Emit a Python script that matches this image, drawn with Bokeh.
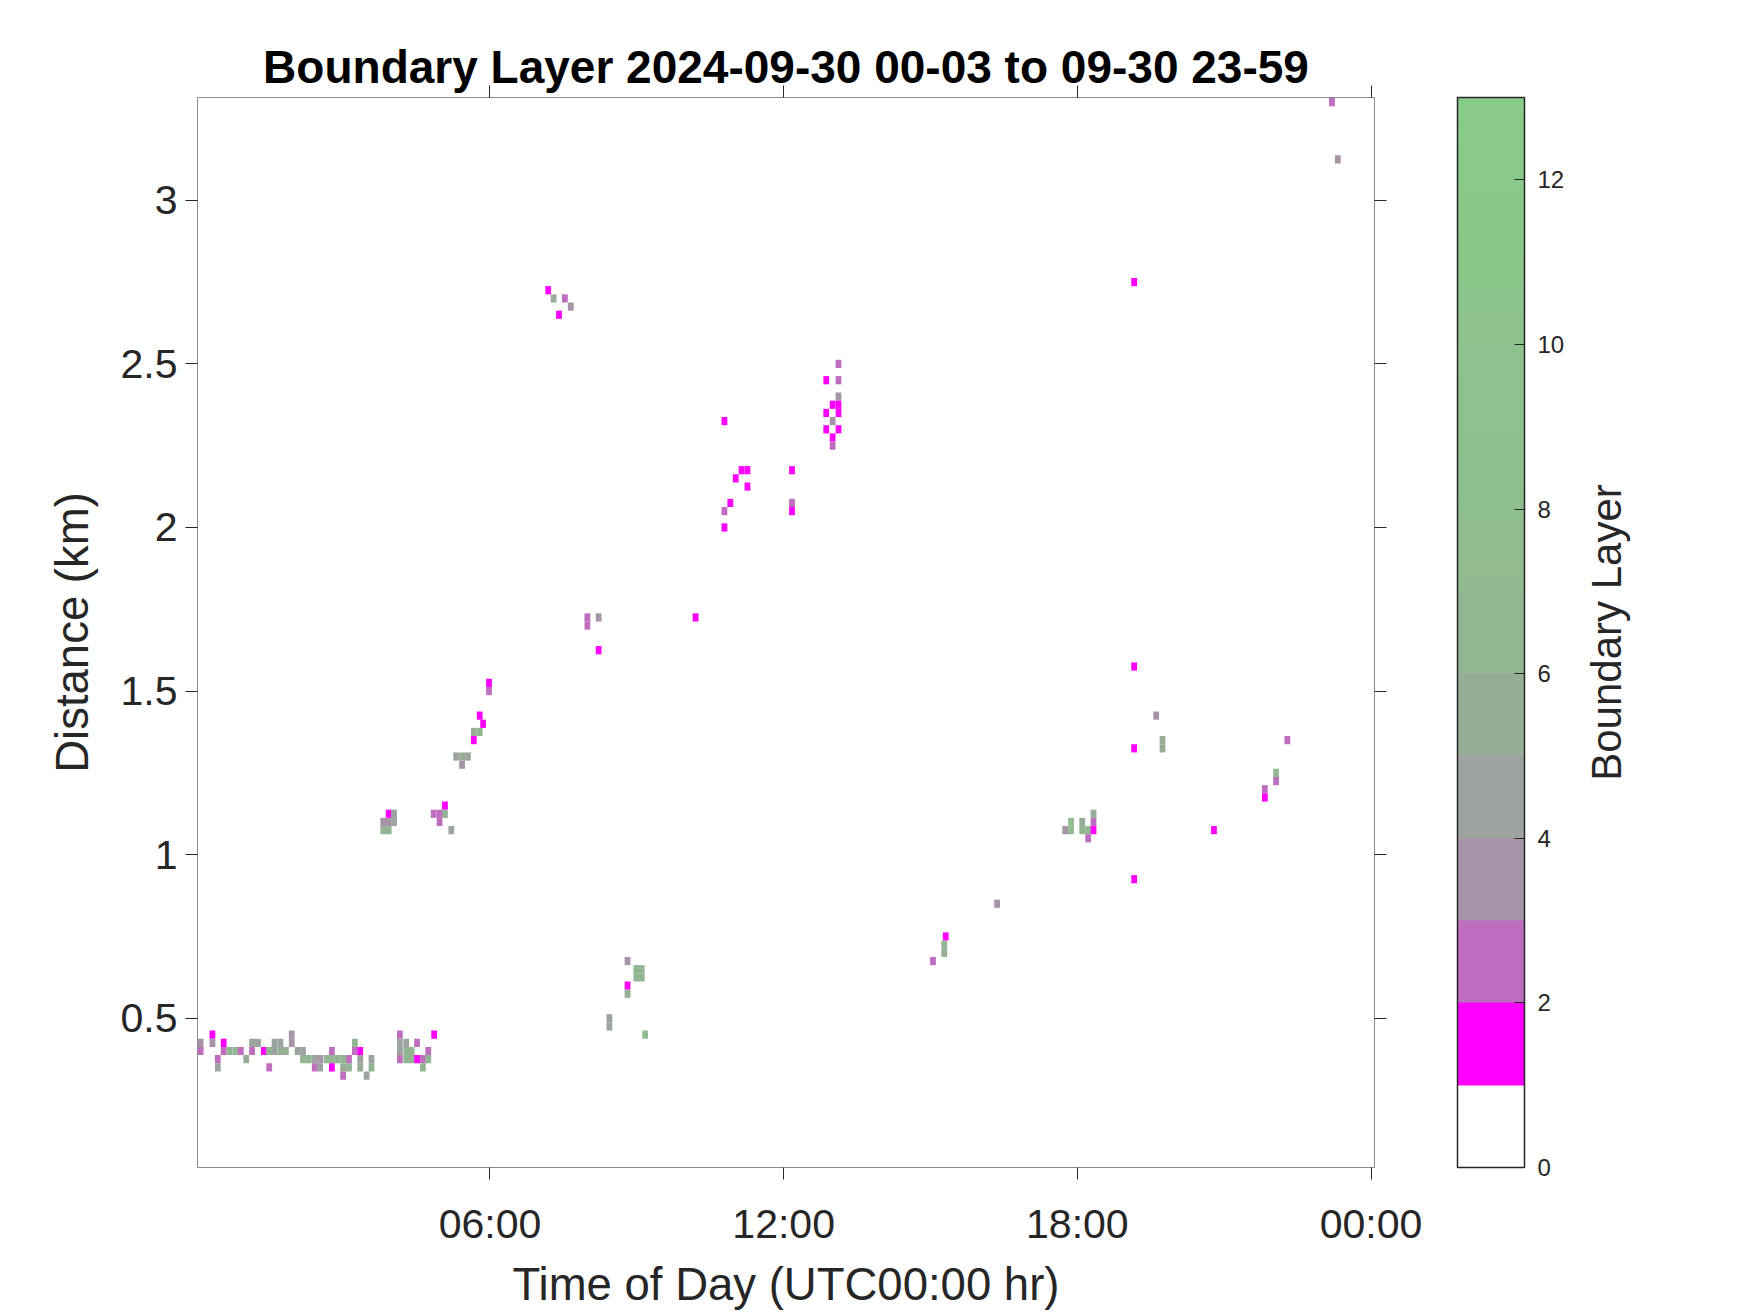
import math
from bokeh.plotting import figure
from bokeh.layouts import row
from bokeh.models import (Range1d, LinearAxis, FixedTicker, NumeralTickFormatter,
                          ColorBar, LinearColorMapper, ColumnDataSource)
from bokeh.embed import file_html
from bokeh.resources import INLINE

# ---------------- data (time of day in hours, range in km, boundary-layer value) -------------
time_h = [
    0.09, 0.09, 0.33, 0.33, 0.44, 0.44, 0.56, 0.56, 0.68, 0.80, 0.91, 1.02, 1.14, 1.14, 1.26,
    1.38, 1.49, 1.49, 1.60, 1.60, 1.72, 1.72, 1.83, 1.95, 1.95, 2.07, 2.18, 2.18, 2.30, 2.42,
    2.42, 2.53, 2.53, 2.66, 2.77, 2.77, 2.77, 2.88, 3.00, 3.00, 3.00, 3.12, 3.12, 3.24, 3.24,
    3.35, 3.35, 3.35, 3.48, 3.58, 3.58,
    4.16, 4.16, 4.16, 4.16, 4.29, 4.29, 4.29, 4.40, 4.40, 4.51, 4.51, 4.63, 4.63, 4.74, 4.74, 4.86,
    3.93, 4.04, 3.82, 3.93, 4.04, 3.82, 3.93,
    5.08, 4.85, 4.97, 5.08, 4.97, 5.21,
    5.43, 5.31, 5.43, 5.55, 5.67, 5.67, 5.79, 5.86, 5.79, 5.98, 5.98,
    7.19, 7.30, 7.53, 7.65, 7.41,
    7.99, 7.99, 8.22, 8.22, 10.20,
    8.44, 8.44, 9.17, 8.81, 8.81, 8.81, 8.99, 9.10, 8.99, 9.10,
    10.79, 11.14, 11.26, 11.02, 11.26, 12.17, 10.91, 10.79, 12.17, 12.17, 10.79,
    13.12, 12.87, 13.12, 13.12, 13.00, 13.12, 12.87, 13.12, 13.00, 12.87, 13.12, 13.00, 13.00,
    15.31, 15.28, 15.28, 15.05, 16.36,
    17.75, 17.87, 17.87, 18.10, 18.10, 18.22, 18.22, 18.33, 18.33, 18.33,
    19.16, 19.16, 19.16, 19.16, 19.61, 19.74, 19.74, 20.79,
    21.83, 21.83, 22.06, 22.06, 22.29, 23.20, 23.32,
]
height_km = [
    0.425, 0.400, 0.450, 0.425, 0.375, 0.350, 0.425, 0.400, 0.400, 0.400, 0.400, 0.375, 0.425, 0.400, 0.425,
    0.400, 0.400, 0.350, 0.425, 0.400, 0.425, 0.400, 0.400, 0.450, 0.425, 0.400, 0.400, 0.375, 0.375, 0.375,
    0.350, 0.375, 0.350, 0.375, 0.400, 0.375, 0.350, 0.375, 0.375, 0.350, 0.325, 0.375, 0.350, 0.425, 0.400,
    0.400, 0.375, 0.350, 0.325, 0.375, 0.350,
    0.450, 0.425, 0.400, 0.375, 0.425, 0.400, 0.375, 0.400, 0.375, 0.425, 0.375, 0.375, 0.350, 0.400, 0.375, 0.450,
    1.125, 1.125, 1.100, 1.100, 1.100, 1.075, 1.075,
    1.150, 1.125, 1.125, 1.125, 1.100, 1.075,
    1.275, 1.300, 1.300, 1.300, 1.350, 1.375, 1.375, 1.400, 1.425, 1.525, 1.500,
    2.725, 2.700, 2.700, 2.675, 2.650,
    1.725, 1.700, 1.725, 1.625, 1.725,
    0.500, 0.475, 0.450, 0.675, 0.600, 0.575, 0.650, 0.650, 0.625, 0.625,
    2.325, 2.175, 2.175, 2.150, 2.125, 2.175, 2.075, 2.050, 2.075, 2.050, 2.000,
    2.500, 2.450, 2.450, 2.400, 2.375, 2.375, 2.350, 2.350, 2.325, 2.300, 2.300, 2.275, 2.250,
    0.750, 0.725, 0.700, 0.675, 0.850,
    1.075, 1.100, 1.075, 1.100, 1.075, 1.075, 1.050, 1.125, 1.100, 1.075,
    2.750, 1.575, 1.325, 0.925, 1.425, 1.350, 1.325, 1.075,
    1.200, 1.175, 1.250, 1.225, 1.350, 3.300, 3.125,
]
layer_value = [
    3.5, 2.5, 1.5, 3.5, 2.5, 4.5, 1.5, 2.5, 6.5, 6.5, 2.5, 5.5, 4.5, 2.5, 4.5,
    1.5, 6.5, 2.5, 4.5, 4.5, 4.5, 5.5, 5.5, 3.5, 3.5, 4.5, 4.5, 6.5, 6.5, 4.5,
    2.5, 3.5, 4.5, 6.5, 2.5, 6.5, 1.5, 6.5, 6.5, 5.5, 2.5, 2.5, 6.5, 6.5, 2.5,
    1.5, 4.5, 5.5, 4.5, 4.5, 6.5,
    2.5, 4.5, 4.5, 2.5, 4.5, 6.5, 6.5, 6.5, 6.5, 2.5, 1.5, 2.5, 6.5, 2.5, 6.5, 1.5,
    1.5, 4.5, 3.5, 3.5, 4.5, 6.5, 6.5,
    1.5, 2.5, 2.5, 5.5, 2.5, 4.5,
    3.5, 4.5, 5.5, 4.5, 1.5, 5.5, 6.5, 1.5, 1.5, 1.5, 2.5,
    1.5, 5.5, 2.5, 3.5, 1.5,
    2.5, 2.5, 3.5, 1.5, 1.5,
    4.5, 4.5, 7.5, 3.5, 1.5, 5.5, 6.5, 6.5, 6.5, 6.5,
    1.5, 1.5, 1.5, 1.5, 1.5, 1.5, 1.5, 2.5, 2.5, 1.5, 1.5,
    2.5, 1.5, 2.5, 3.5, 1.5, 1.5, 1.5, 1.5, 3.5, 1.5, 1.5, 1.5, 2.5,
    1.5, 6.5, 5.5, 2.5, 3.5,
    3.5, 7.5, 7.5, 5.5, 6.5, 6.5, 2.5, 5.5, 2.5, 1.5,
    1.5, 1.5, 1.5, 1.5, 3.5, 5.5, 5.5, 1.5,
    2.5, 1.5, 6.5, 2.5, 2.5, 2.5, 3.5,
]

x_ticks = [6, 12, 18, 24]
x_tick_labels = ["06:00", "12:00", "18:00", "00:00"]
y_ticks = [0.5, 1.0, 1.5, 2.0, 2.5, 3.0]
cbar_ticks = [0, 2, 4, 6, 8, 10, 12]

# colour scale: one colour per unit up to 7, then a smooth ramp to 13
step_colors = ["#ffffff", "#ff00ff", "#bf6ebf", "#a894a8", "#9da39e", "#96ad96", "#92b592"]
ramp_start, ramp_end = (0x90, 0xbb, 0x90), (0x88, 0xcc, 0x88)

palette = []
for i in range(130):
    v = (i + 0.5) / 10.0
    if v < 7:
        palette.append(step_colors[int(v)])
    else:
        f = (v - 7) / 6.0
        c = [round(a + (b - a) * f) for a, b in zip(ramp_start, ramp_end)]
        palette.append("#%02x%02x%02x" % tuple(c))

FONT = "Liberation Sans"
TXT = "#262626"
FW, FH = 1177, 1070
TOP, BOTTOM = 97, 143
P_RIGHT = 195

p = figure(frame_width=FW, frame_height=FH,
           x_range=Range1d(0.025, 24.07), y_range=Range1d(0.044, 3.314),
           output_backend="svg", toolbar_location=None,
           title="Boundary Layer 2024-09-30 00-03 to 09-30 23-59",
           min_border_left=197, min_border_top=TOP, min_border_bottom=BOTTOM,
           min_border_right=P_RIGHT,
           background_fill_color="white", border_fill_color="white")
p.xgrid.visible = False
p.ygrid.visible = False
p.outline_line_color = "#8c8c8c"
p.outline_line_width = 1

p.title.align = "center"
p.title.text_font = FONT
p.title.text_font_size = "46px"
p.title.text_font_style = "bold"
p.title.text_color = "black"
p.title.standoff = -14

src = ColumnDataSource(dict(t=time_h, h=height_km, v=layer_value))
mapper = LinearColorMapper(palette=palette, low=0, high=13)
p.rect(x="t", y="h", width=0.118, height=0.025, source=src,
       fill_color={"field": "v", "transform": mapper}, line_color=None)


def style(ax, label_size="41px"):
    ax.axis_line_color = None
    ax.major_tick_line_color = TXT
    ax.major_tick_out = 12
    ax.major_tick_in = 0
    ax.minor_tick_out = 0
    ax.minor_tick_in = 0
    ax.major_label_text_font = FONT
    ax.major_label_text_color = TXT
    ax.major_label_text_font_size = label_size
    ax.axis_label_text_font = FONT
    ax.axis_label_text_font_style = "normal"
    ax.axis_label_text_color = TXT
    ax.axis_label_text_font_size = "45.5px"


xax = p.xaxis[0]
style(xax)
xax.ticker = FixedTicker(ticks=x_ticks)
xax.major_label_overrides = {t: s for t, s in zip(x_ticks, x_tick_labels)}
xax.major_label_standoff = 21
xax.axis_label = "Time of Day (UTC00:00 hr)"
xax.axis_label_standoff = 9

yax = p.yaxis[0]
style(yax)
yax.ticker = FixedTicker(ticks=y_ticks)
yax.formatter = NumeralTickFormatter(format="0.[0]")
yax.major_label_standoff = 8
yax.axis_label = "Distance (km)"
yax.axis_label_standoff = 20

top_ax = LinearAxis(ticker=FixedTicker(ticks=x_ticks))
style(top_ax, "0px")
top_ax.major_label_overrides = {t: "" for t in x_ticks}
top_ax.major_label_standoff = 0
p.add_layout(top_ax, "above")

right_ax = LinearAxis(ticker=FixedTicker(ticks=y_ticks))
style(right_ax)
right_ax.major_label_overrides = {t: " " for t in y_ticks}
right_ax.major_label_standoff = 57
p.add_layout(right_ax, "right")

cbar = ColorBar(color_mapper=mapper, ticker=FixedTicker(ticks=cbar_ticks),
                width=67, height=FH, padding=0, margin=0, location=(0, 0),
                major_tick_in=10, major_tick_out=0, major_tick_line_color=TXT,
                minor_tick_line_color=None,
                major_label_text_font=FONT, major_label_text_font_size="24px",
                major_label_text_color=TXT, label_standoff=13,
                bar_line_color="#262626", bar_line_width=1.5,
                border_line_color=None, background_fill_color=None)
p.add_layout(cbar, "right")

# narrow companion panel whose left axis carries the colour-bar title (reads bottom-to-top)
p_lab = figure(frame_width=10, frame_height=FH, x_range=Range1d(0, 1), y_range=Range1d(0, 1),
               x_axis_type=None, output_backend="svg", toolbar_location=None,
               min_border_left=60, min_border_top=TOP, min_border_bottom=BOTTOM, min_border_right=0,
               background_fill_color="white", border_fill_color="white", outline_line_color=None)
p_lab.xgrid.visible = False
p_lab.ygrid.visible = False
lab_ax = p_lab.yaxis[0]
style(lab_ax, "0px")
lab_ax.ticker = FixedTicker(ticks=[])
lab_ax.major_tick_out = 0
lab_ax.axis_label = "Boundary Layer"
lab_ax.axis_label_text_font_size = "42px"
lab_ax.axis_label_standoff = 0

layout = row(p, p_lab)
open("out.html", "w").write(file_html(layout, INLINE))
